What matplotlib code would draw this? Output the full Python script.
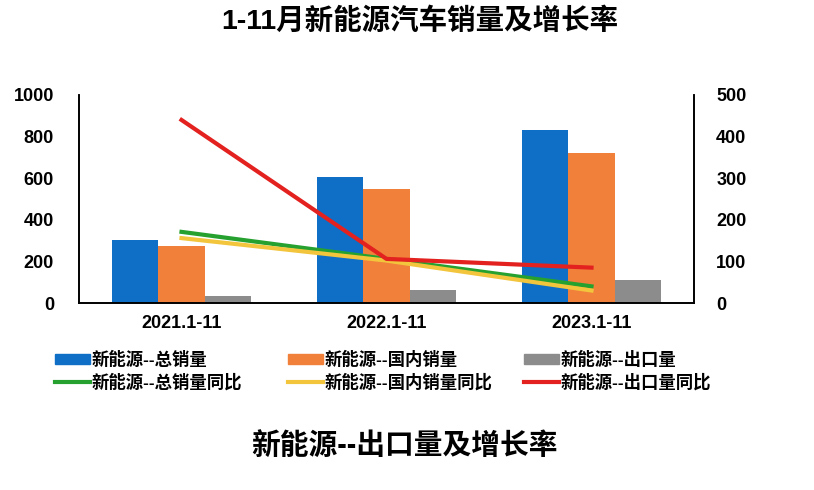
import numpy as np
import matplotlib
matplotlib.use("Agg")
import matplotlib.pyplot as plt
from matplotlib.patches import Patch
from matplotlib.lines import Line2D

plt.rcParams['font.family'] = ['Liberation Sans', 'Noto Sans CJK SC', 'DejaVu Sans']
plt.rcParams['font.weight'] = 'bold'

# data (万辆 / %)
categories = ['2021.1-11', '2022.1-11', '2023.1-11']
total_sales = [305, 607, 830]
domestic_sales = [276, 549, 721]
export_sales = [33, 62, 109]
total_growth = [171, 106, 40]
domestic_growth = [156, 102, 30]
export_growth = [440, 106, 85]

c_blue = '#0f6fc6'
c_orange = '#f0803a'
c_grey = '#8c8c8c'
c_green = '#26a130'
c_yellow = '#f2c53d'
c_red = '#e3211f'

fig = plt.figure(figsize=(8.14, 4.9), dpi=100)
ax = fig.add_axes([79/814, 1-303/490, (694-79)/814, (303-95)/490])
ax2 = ax.twinx()

x = np.arange(len(categories))
w = 0.225
ax.bar(x - w, total_sales, w, color=c_blue, zorder=2)
ax.bar(x, domestic_sales, w, color=c_orange, zorder=2)
ax.bar(x + w, export_sales, w, color=c_grey, zorder=2)

ax2.plot(x, total_growth, color=c_green, lw=3)
ax2.plot(x, domestic_growth, color=c_yellow, lw=3)
ax2.plot(x, export_growth, color=c_red, lw=3)

ax.set_xlim(-0.5, 2.5)
ax.set_ylim(0, 1000)
ax2.set_ylim(0, 500)
ax.set_yticks(np.arange(0, 1001, 200))
ax2.set_yticks(np.arange(0, 501, 100))
ax.set_xticks(x)
ax.set_xticklabels(categories, fontsize=12.5, fontweight='bold')
for a in (ax, ax2):
    a.spines['top'].set_visible(False)
    a.tick_params(length=0, labelsize=13)
    for s in a.spines.values():
        s.set_linewidth(1.2)
for lab in ax.get_yticklabels() + ax2.get_yticklabels():
    lab.set_fontweight('bold')
ax.tick_params(axis='y', pad=18)
ax2.tick_params(axis='y', pad=16)
ax.tick_params(axis='x', pad=9)

fig.text(0.516, 0.957, '1-11月新能源汽车销量及增长率', ha='center', va='center',
         fontsize=20.5, fontweight='bold')

handles = [Patch(color=c_blue), Patch(color=c_orange), Patch(color=c_grey),
           Line2D([], [], color=c_green, lw=3), Line2D([], [], color=c_yellow, lw=3),
           Line2D([], [], color=c_red, lw=3)]
labels = ['新能源--总销量', '新能源--国内销量', '新能源--出口量',
          '新能源--总销量同比', '新能源--国内销量同比', '新能源--出口量同比']
col_x = [55, 288, 524]
for i in range(3):
    leg = fig.legend([handles[i], handles[i + 3]], [labels[i], labels[i + 3]],
                     loc='upper left', bbox_to_anchor=(col_x[i]/814, 1-351/490),
                     frameon=False, handlelength=2.0, handleheight=0.55,
                     handletextpad=0.1, labelspacing=0.3, borderpad=0,
                     borderaxespad=0, prop={'weight': 'bold', 'size': 12.5})

fig.text(0.497, 0.09, '新能源--出口量及增长率', ha='center', va='center',
         fontsize=20.7, fontweight='bold')

fig.savefig('out.png', dpi=100, facecolor='white')
